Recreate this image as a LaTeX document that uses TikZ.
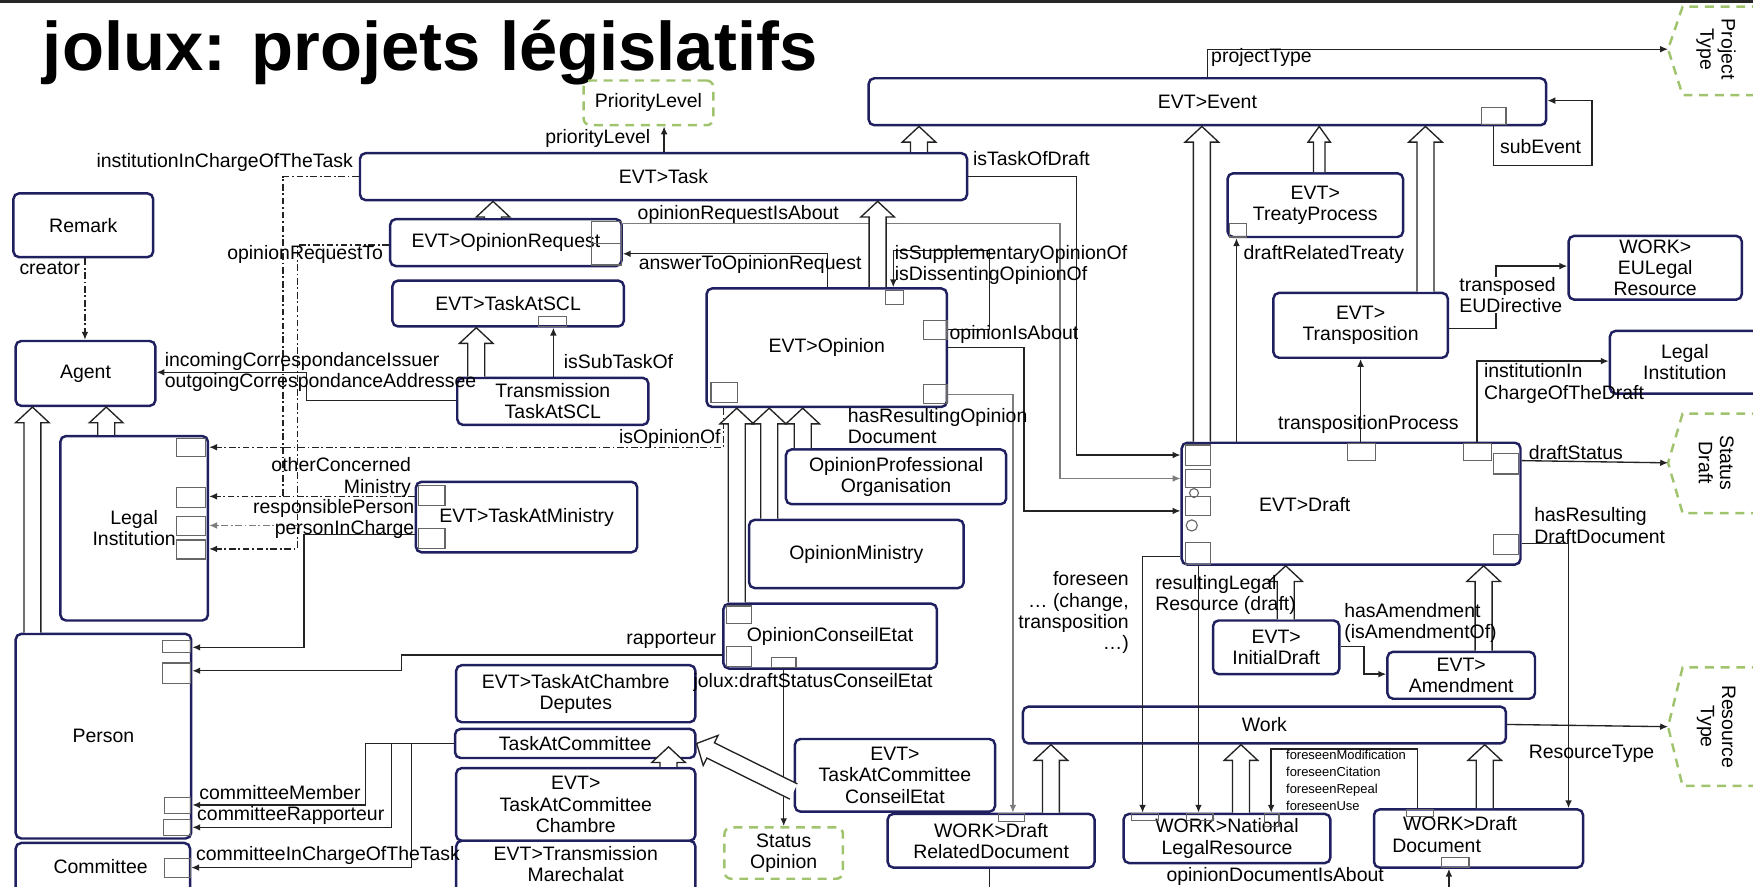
\documentclass[tikz,border=0pt]{standalone}
\usepackage{fontspec}
\setmainfont{Liberation Sans}
\usetikzlibrary{calc,arrows.meta}
\definecolor{navy}{RGB}{32,32,96}
\definecolor{grn}{RGB}{160,196,110}
\definecolor{ln}{RGB}{35,35,35}
\definecolor{lgray}{RGB}{125,125,125}
\newcommand{\fs}{\fontsize{8.7}{9.5}\selectfont}
\newcommand{\inhW}{3.8pt}
\newcommand{\inhHW}{7.5pt}
\newcommand{\inhL}{7pt}
\newcommand{\cbox}[7][]{\node[cls,minimum width={(#5-#3)*0.5pt},minimum height={(#6-#4)*0.5pt},#1] (#2) at ({(#3+#5)/2},{(#4+#6)/2}) {#7};}
\newcommand{\port}[4]{\draw[portst] (#1,#2) rectangle (#3,#4);}
\newcommand{\inh}[2]{%
 \coordinate (inhS) at (#1);\coordinate (inhT) at (#2);
 \coordinate (inhH) at ($(inhT)!\inhL!(inhS)$);
 \filldraw[inhst] ($(inhS)!\inhW!90:(inhT)$) -- ($(inhH)!\inhW!90:(inhT)$) -- ($(inhH)!\inhHW!90:(inhT)$) -- (inhT) -- ($(inhH)!\inhHW!-90:(inhT)$) -- ($(inhH)!\inhW!-90:(inhT)$) -- ($(inhS)!\inhW!-90:(inhT)$);}
\newcommand{\vinh}[3]{\inh{#2 -| #1,0}{#3 -| #1,0}}
\begin{document}
\begin{tikzpicture}[x=0.5pt,y=-0.5pt,
 cls/.style={draw=navy, line width=1.1pt, rounded corners=2.5pt, align=center, font=\fs, inner sep=0pt},
 grnbox/.style={draw=grn, line width=1.1pt, dash pattern=on 4pt off 3pt, rounded corners=3pt},
 grnline/.style={draw=grn, line width=1.1pt, dash pattern=on 4pt off 3pt},
 portst/.style={draw=black!60, line width=0.5pt},
 conn/.style={draw=ln, line width=0.6pt, -{Latex[length=3.5pt,width=3pt]}},
 plainln/.style={draw=ln, line width=0.6pt},
 dd/.style={dash pattern=on 3pt off 1.2pt on 0.8pt off 1.2pt},
 inhst/.style={draw=ln, line width=0.6pt, fill=white},
 lbl/.style={font=\fs, inner sep=0pt}]
\useasboundingbox (0,0) rectangle (1568,793);
\clip (0,0) rectangle (1568,793);
\fill[white] (0,0) rectangle (1568,793);
\draw[line width=1.6pt, black!85] (0,1.5) -- (1568,1.5);
\node[anchor=base west, inner sep=0pt, font=\fontsize{30.75}{36}\selectfont\bfseries] (title) at (38,63) {jolux: projets législatifs};

% boxes
\cbox[grnbox]{pl}{522}{72}{638}{112}{PriorityLevel}
\cbox{event}{777}{70}{1383}{112}{EVT>Event}
\cbox{task}{322}{137}{865}{179}{EVT>Task}
\cbox{remark}{12}{173}{137}{230}{Remark}
\cbox{opreq}{349}{196}{556}{238}{EVT>OpinionRequest}
\cbox{tscl}{351}{251}{558}{292}{EVT>TaskAtSCL}
\cbox{agent}{14}{305}{139}{363}{Agent}
\cbox{trans}{409}{338}{580}{380}{Transmission\\TaskAtSCL}
\cbox{opinion}{632}{258}{847}{364}{EVT>Opinion}
\cbox{legal}{54}{390}{186}{555}{Legal\\Institution}
\cbox{tmin}{372}{431}{570}{494}{EVT>TaskAtMinistry}
\cbox{opo}{703}{402}{900}{451}{OpinionProfessional\\Organisation}
\cbox{omin}{670}{465}{862}{526}{OpinionMinistry}
\cbox{oce}{647}{540}{838}{598}{OpinionConseilEtat}
\cbox{person}{14}{567}{171}{750}{Person}
\cbox{committee}{14}{754}{170}{800}{}
\cbox{tcd}{408}{595}{622}{646}{EVT>TaskAtChambre\\Deputes}
\cbox{tac}{407}{652}{622}{678}{TaskAtCommittee}
\cbox{tacc}{408}{687}{622}{752}{EVT>\\TaskAtCommittee\\Chambre}
\cbox{ttm}{408}{752}{622}{800}{}
\cbox{tacce}{711}{661}{890}{726}{EVT>\\TaskAtCommittee\\ConseilEtat}
\cbox[grnbox]{statop}{648}{740}{754}{786}{Status\\Opinion}
\cbox{drd}{794}{728}{979}{776}{WORK>Draft\\RelatedDocument}
\cbox{treaty}{1098}{155}{1255}{212}{EVT>\\TreatyProcess}
\cbox{euleg}{1403}{211}{1558}{268}{WORK>\\EULegal\\Resource}
\cbox{transp}{1139}{262}{1295}{320}{EVT>\\Transposition}
\cbox{legal2}{1440}{296}{1580}{352}{}
\cbox{draft}{1057}{396}{1360}{505}{}
\cbox{initd}{1085}{555}{1198}{603}{EVT>\\InitialDraft}
\cbox{amend}{1241}{583}{1373}{625}{EVT>\\Amendment}
\cbox{work}{915}{632}{1347}{665}{Work}
\cbox{nlr}{1005}{728}{1190}{772}{WORK>National\\LegalResource}
\cbox{ddoc}{1229}{724}{1416}{776}{}

\node[lbl] (committeet) at (90,775) {Committee};
\node[lbl,align=center] (ttmt) at (515,773) {EVT>Transmission\\Marechalat};
\node[lbl,align=center] (legal2t) at (1507,324) {Legal\\Institution};
\node[lbl] (draftt) at (1167,451) {EVT>Draft};
\node[lbl] (ddoct1) at (1306,737) {WORK>Draft};
\node[lbl] (ddoct2) at (1285,757) {Document};

% green hexagons
\coordinate (ptypeL) at (1492,44);
\draw[grnline] (1575,6) -- (1505,6) -- (ptypeL) -- (1505,85) -- (1575,85);
\node[lbl,rotate=-90,align=center] (ptypet) at (1535,44) {Project\\Type};
\coordinate (sdraftL) at (1492,414);
\draw[grnline] (1575,370) -- (1505,370) -- (sdraftL) -- (1505,459) -- (1575,459);
\node[lbl,rotate=-90,align=center] (sdraftt) at (1535,414) {Status\\Draft};
\coordinate (rtypeL) at (1492,650);
\draw[grnline] (1575,597) -- (1505,597) -- (rtypeL) -- (1505,703) -- (1575,703);
\node[lbl,rotate=-90,align=center] (rtypet) at (1535,650) {Resource\\Type};

% connectors
\draw[conn] (task.north -| 594,0) -- (pl.south -| 594,0);
\draw[conn] (event.north -| 1080,0) -- (1080,44) -- (ptypeL);
\draw[conn] (event.south -| 1336,0) -- (1336,148) -- (1424,148) -- (1424,90) -- (event.east |- 0,90);
\draw[conn] (task.east |- 0,158) -| (963,407) -- (draft.west |- 0,407);
\draw[plainln,dd] (task.west |- 0,158) -| (253,444);
\draw[conn,dd] (tmin.west |- 0,444) -- (legal.east |- 0,444);
\draw[conn,dd] (opreq.west |- 0,219) -| (266,491) -- (legal.east |- 0,491);
\draw[conn,dd,draw=lgray] (266,470) -- (legal.east |- 0,470);
\draw[conn] (tmin.west |- 0,478) -| (272,579) -- (person.east |- 0,579);
\draw[conn,dd] (opinion.south -| 647,0) -- (647,400) -- (legal.east |- 0,400);
\draw[conn] (trans.west |- 0,358) -- (274,358) -- (274,333) -- (agent.east |- 0,333);
\draw[conn,dd] (remark.south -| 76,0) -- (agent.north -| 76,0);
\draw[conn] (trans.north -| 495,0) -- (tscl.south -| 495,0);
\draw[conn,draw=lgray] (opreq.east |- 0,200) -| (948,428) -- (draft.west |- 0,428);
\draw[conn] (opinion.north -| 740,0) |- (opreq.east |- 0,227);
\draw[conn] (opinion.east |- 0,295) -| (885,224) -| (opinion.north -| 799,0);
\draw[conn] (opinion.east |- 0,311) -| (916,457) -- (draft.west |- 0,457);
\draw[conn,draw=lgray] (opinion.east |- 0,353) -| (drd.north -| 906,0);
\draw[conn] (oce.south -| 701,0) -- (statop.north -| 701,0);
\draw[conn] (oce.west |- 0,586) -- (359,586) -- (359,600) -- (person.east |- 0,600);
\draw[conn] (tac.west) -- (327,665) -- (327,720) -- (person.east |- 0,720);
\draw[conn] (350,665) -- (350,740) -- (person.east |- 0,740);
\draw[conn] (368,665) -- (368,776) -- (committee.east |- 0,776);
\draw[conn] (draft.north -| 1106,0) -- (treaty.south -| 1106,0);
\draw[conn] (draft.north -| 1217,0) -- (transp.south -| 1217,0);
\draw[conn] (transp.east |- 0,294) -| (1338,238) -- (euleg.west |- 0,238);
\draw[conn] (draft.north -| 1321,0) |- (legal2.west |- 0,323);
\draw[conn] (draft.east |- 0,412) -- (sdraftL);
\draw[conn] (draft.east |- 0,486) -| (ddoc.north -| 1403,0);
\draw[conn] (draft.west |- 0,498) -| (nlr.north -| 1022,0);
\draw[conn] (draft.south -| 1072,0) -- (nlr.north -| 1072,0);
\draw[conn] (initd.east |- 0,578) -| (1220,603) -- (amend.west |- 0,603);
\draw[conn] (work.east |- 0,648) -- (rtypeL);
\draw[conn] (ddoc.north -| 1268,0) |- (1137,670) -- (nlr.north -| 1137,0);
\draw[conn] (1296,800) -- (ddoc.south -| 1296,0);
\draw[plainln] (drd.south -| 885,0) -- (885,800);

% inheritance arrows
\vinh{822}{task.north}{event.south}
\vinh{441}{opreq.north}{task.south}
\vinh{785}{opinion.north}{task.south}
\vinh{426}{trans.north}{tscl.south}
\vinh{95}{legal.north}{agent.south}
\vinh{29}{person.north}{agent.south}
\vinh{659}{oce.north}{opinion.south}
\vinh{688}{omin.north}{opinion.south}
\vinh{718}{opo.north}{opinion.south}
\inh{tacc.north -| 598,0}{598,668}
\inh{tacce.west |- 0,708}{tac.east}
{\renewcommand{\inhW}{2.6pt}\renewcommand{\inhHW}{5pt}\vinh{1180}{treaty.north}{event.south}}
\vinh{1075}{draft.north}{event.south}
\vinh{1275}{transp.north}{event.south}
\vinh{1150}{initd.north}{draft.south}
\vinh{1327}{amend.north}{draft.south}
\vinh{940}{drd.north}{work.south}
\vinh{1110}{nlr.north}{work.south}
\vinh{1328}{ddoc.north}{work.south}

% ports
\port{1325}{96}{1347}{111}
\port{529}{198}{556}{218}\port{529}{218}{556}{237}
\port{482}{283}{507}{292}
\port{792}{260}{808}{272}\port{826}{287}{847}{304}\port{826}{344}{847}{361}\port{636}{342}{660}{360}
\port{158}{392}{184}{408}\port{158}{436}{184}{454}\port{158}{462}{184}{479}\port{158}{483}{184}{500}
\port{374}{434}{398}{452}\port{374}{473}{398}{491}
\port{650}{542}{672}{558}\port{650}{578}{672}{596}\port{690}{588}{712}{597}
\port{145}{573}{170}{584}\port{145}{593}{170}{611}\port{147}{713}{170}{728}\port{146}{733}{170}{747}
\port{147}{768}{170}{785}
\port{1100}{200}{1115}{212}
\port{1060}{398}{1083}{416}\port{1060}{420}{1083}{436}\port{1060}{444}{1083}{461}\port{1060}{485}{1083}{505}
\port{1205}{397}{1230}{412}\port{1309}{397}{1334}{412}\port{1336}{406}{1358}{424}\port{1336}{478}{1358}{496}
\port{1012}{728}{1036}{734}\port{1061}{728}{1085}{734}\port{1131}{728}{1144}{739}
\port{1258}{724}{1282}{730}\port{1289}{767}{1314}{776}
\port{893}{728}{916}{735}
\draw[portst] (1068,441) circle[radius=2pt];
\draw[portst] (1066,470) circle[radius=2.5pt];

% labels
\node[lbl,anchor=east] (l1) at (582,124) {priorityLevel};
\node[lbl,anchor=west] (l2) at (1083,51) {projectType};
\node[lbl] (l3) at (1378,131) {subEvent};
\node[lbl,anchor=west] (l4) at (870,142) {isTaskOfDraft};
\node[lbl,anchor=east] (l5) at (316,145) {institutionInChargeOfTheTask};
\node[lbl,anchor=east] (l6) at (343,228) {opinionRequestTo};
\node[lbl,anchor=east] (l7) at (72,240) {creator};
\node[lbl,anchor=west] (l8) at (147,323) {incomingCorrespondanceIssuer};
\node[lbl,anchor=west] (l9) at (147,342) {outgoingCorrespondanceAddressee};
\node[lbl,anchor=west] (l10) at (504,323) {isSubTaskOf};
\node[lbl,anchor=west] (l11) at (570,192) {opinionRequestIsAbout};
\node[lbl,anchor=west] (l12) at (571,237) {answerToOpinionRequest};
\node[lbl,anchor=west,align=left] (l13) at (800,237) {isSupplementaryOpinionOf\\isDissentingOpinionOf};
\node[lbl,anchor=west] (l14) at (849,299) {opinionIsAbout};
\node[lbl,anchor=west,align=left] (l15) at (758,381) {hasResultingOpinion\\Document};
\node[lbl,anchor=east] (l16) at (645,392) {isOpinionOf};
\node[lbl,anchor=east,align=right] (l17) at (368,427) {otherConcerned\\Ministry};
\node[lbl,anchor=east] (l18) at (371,455) {responsiblePerson};
\node[lbl,anchor=east] (l19) at (371,474) {personInCharge};
\node[lbl,anchor=east] (l20) at (641,573) {rapporteur};
\node[lbl,anchor=west] (l21) at (620,610) {jolux:draftStatusConseilEtat};
\node[lbl,anchor=west] (l22) at (178,709) {committeeMember};
\node[lbl,anchor=west] (l23) at (176,729) {committeeRapporteur};
\node[lbl,anchor=west] (l24) at (175,765) {committeeInChargeOfTheTask};
\node[lbl,anchor=west] (l25) at (1112,228) {draftRelatedTreaty};
\node[lbl,anchor=west,align=left,fill=white] (l26) at (1305,264) {transposed\\EUDirective};
\node[lbl,anchor=west,align=left] (l27) at (1327,343) {institutionIn\\ChargeOfTheDraft};
\node[lbl] (l28) at (1224,380) {transpositionProcess};
\node[lbl,anchor=west] (l29) at (1367,405) {draftStatus};
\node[lbl,anchor=west,align=left] (l30) at (1372,470) {hasResulting\\DraftDocument};
\node[lbl,anchor=east,align=right] (l31) at (1010,548) {foreseen\\… (change,\\transposition\\…)};
\node[lbl,anchor=west,align=left] (l32) at (1033,532) {resultingLegal\\Resource (draft)};
\node[lbl,anchor=west,align=left] (l33) at (1202,557) {hasAmendment\\(isAmendmentOf)};
\node[lbl,anchor=west] (l34) at (1367,674) {ResourceType};
\node[lbl,anchor=west,align=left,font=\fontsize{5.8}{7.5}\selectfont] (l35) at (1150,698) {foreseenModification\\foreseenCitation\\foreseenRepeal\\foreseenUse};
\node[lbl,anchor=west] (l36) at (1043,784) {opinionDocumentIsAbout};
\end{tikzpicture}
\end{document}
